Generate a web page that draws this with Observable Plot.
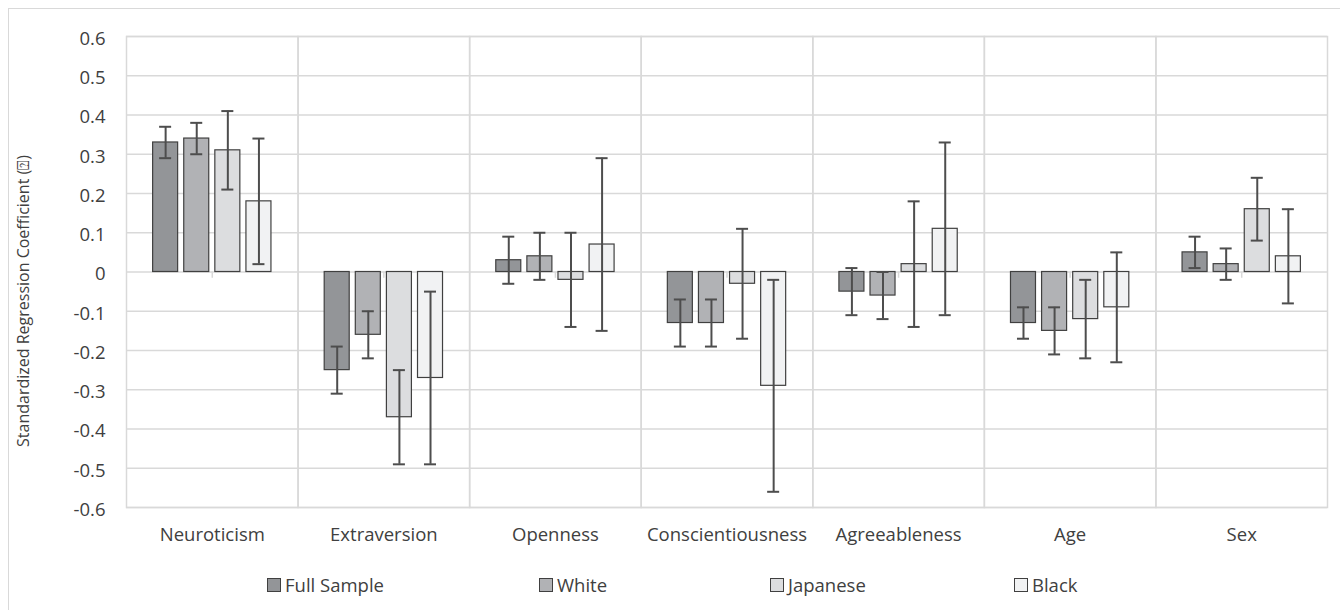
<!DOCTYPE html>
<html>
<head>
<meta charset="utf-8">
<script src="https://cdn.jsdelivr.net/npm/d3@7"></script>
<script src="https://cdn.jsdelivr.net/npm/@observablehq/plot@0.6"></script>
<style>
  html, body { margin: 0; padding: 0; background: #fff; }
  #wrap { position: relative; width: 1340px; height: 610px; overflow: hidden; font-family: "Open Sans", sans-serif; color: #404040; }
  #border { position: absolute; left: 8px; top: 8px; width: 1400px; height: 700px; border: 1.5px solid #d9d9d9; box-sizing: border-box; }
  #chart { position: absolute; left: 0; top: 0; }
  #legend { position: absolute; left: 0; top: 0; width: 1340px; height: 610px; pointer-events: none; }
  .item { position: absolute; top: 573px; font-size: 18.5px; line-height: 24px; white-space: nowrap; display: flex; align-items: center; }
  .sw { width: 12px; height: 12px; border: 1px solid #404040; margin-right: 4px; }
</style>
</head>
<body>
<div id="wrap">
  <div id="border"></div>
  <div id="chart"></div>
  <div id="legend"></div>
</div>
<script>
const categories = ["Neuroticism", "Extraversion", "Openness", "Conscientiousness", "Agreeableness", "Age", "Sex"];
const seriesNames = ["Full Sample", "White", "Japanese", "Black"];

const fullValues = [0.33, -0.25, 0.03, -0.13, -0.05, -0.13, 0.05];
const fullLower  = [0.29, -0.31, -0.03, -0.19, -0.11, -0.17, 0.01];
const fullUpper  = [0.37, -0.19, 0.09, -0.07, 0.01, -0.09, 0.09];

const whiteValues = [0.34, -0.16, 0.04, -0.13, -0.06, -0.15, 0.02];
const whiteLower  = [0.30, -0.22, -0.02, -0.19, -0.12, -0.21, -0.02];
const whiteUpper  = [0.38, -0.10, 0.10, -0.07, 0.00, -0.09, 0.06];

const japaneseValues = [0.31, -0.37, -0.02, -0.03, 0.02, -0.12, 0.16];
const japaneseLower  = [0.21, -0.49, -0.14, -0.17, -0.14, -0.22, 0.08];
const japaneseUpper  = [0.41, -0.25, 0.10, 0.11, 0.18, -0.02, 0.24];

const blackValues = [0.18, -0.27, 0.07, -0.29, 0.11, -0.09, 0.04];
const blackLower  = [0.02, -0.49, -0.15, -0.56, -0.11, -0.23, -0.08];
const blackUpper  = [0.34, -0.05, 0.29, -0.02, 0.33, 0.05, 0.16];

const yTicks = [-0.6, -0.5, -0.4, -0.3, -0.2, -0.1, 0, 0.1, 0.2, 0.3, 0.4, 0.5, 0.6];
const yLabel = "Standardized Regression Coefficient (\u2370)";

const seriesFills = ["#939598", "#b1b2b5", "#dcdddf", "#f1f2f3"];

const table = [
  [fullValues, fullLower, fullUpper],
  [whiteValues, whiteLower, whiteUpper],
  [japaneseValues, japaneseLower, japaneseUpper],
  [blackValues, blackLower, blackUpper]
];
const rows = [];
categories.forEach((cat, i) => {
  seriesNames.forEach((s, j) => {
    rows.push({cat, series: s, value: table[j][0][i], lo: table[j][1][i], hi: table[j][2][i]});
  });
});

const W = 1340, H = 560, mL = 126, mR = 13, mT = 36, mB = 53;
const facetW = (W - mL - mR) / categories.length;
const pIn = 0.196, pOut = 0.856;
const step = facetW / (seriesNames.length - pIn + 2 * pOut);

const chart = Plot.plot({
  width: W, height: H,
  marginTop: mT, marginLeft: mL, marginRight: mR, marginBottom: mB,
  style: {fontFamily: "'Open Sans', sans-serif", color: "#404040", background: "transparent", overflow: "visible"},
  fx: {domain: categories, padding: 0, round: false, label: null},
  x: {domain: seriesNames, paddingInner: pIn, paddingOuter: pOut, round: false, axis: null},
  y: {domain: [-0.6, 0.6]},
  color: {domain: seriesNames, range: seriesFills},
  marks: [
    Plot.gridY(yTicks, {stroke: "#d9d9d9", strokeOpacity: 1, strokeWidth: 1.5}),
    Plot.frame({stroke: "#d9d9d9", strokeWidth: 1.5}),
    Plot.ruleX(categories, {fx: d => d, x: () => seriesNames[1], dx: step / 2, y1: 0, y2: -0.016, stroke: "#d9d9d9", strokeWidth: 1.5}),
    Plot.axisY(yTicks, {tickSize: 0, tickPadding: 21, fontSize: 18.5, fill: "#404040", tickFormat: d => d === 0 ? "0" : d.toFixed(1), label: null, dy: 2.5}),
    Plot.axisFx({anchor: "bottom", tickSize: 0, tickPadding: 20, fontSize: 18.5, fill: "#404040", label: null}),
    Plot.text([yLabel], {fx: () => categories[0], frameAnchor: "left", textAnchor: "middle", rotate: -90, dx: -103, dy: 29, fontSize: 16, fill: "#404040"}),
    Plot.barY(rows, {fx: "cat", x: "series", y: "value", fill: "series", stroke: "#404040", strokeWidth: 1.2}),
    Plot.ruleX(rows, {fx: "cat", x: "series", y1: "lo", y2: "hi", stroke: "#4d4d4d", strokeWidth: 2}),
    Plot.tickY(rows, {fx: "cat", x: "series", y: "lo", stroke: "#4d4d4d", strokeWidth: 2, insetLeft: 6.5, insetRight: 6.5}),
    Plot.tickY(rows, {fx: "cat", x: "series", y: "hi", stroke: "#4d4d4d", strokeWidth: 2, insetLeft: 6.5, insetRight: 6.5})
  ]
});
document.getElementById("chart").appendChild(chart);

const legendLefts = [267, 539, 770, 1014];
const legend = document.getElementById("legend");
seriesNames.forEach((s, j) => {
  const item = document.createElement("div");
  item.className = "item";
  item.style.left = legendLefts[j] + "px";
  const sw = document.createElement("span");
  sw.className = "sw";
  sw.style.background = seriesFills[j];
  const tx = document.createElement("span");
  tx.textContent = s;
  item.appendChild(sw);
  item.appendChild(tx);
  legend.appendChild(item);
});
</script>
</body>
</html>
